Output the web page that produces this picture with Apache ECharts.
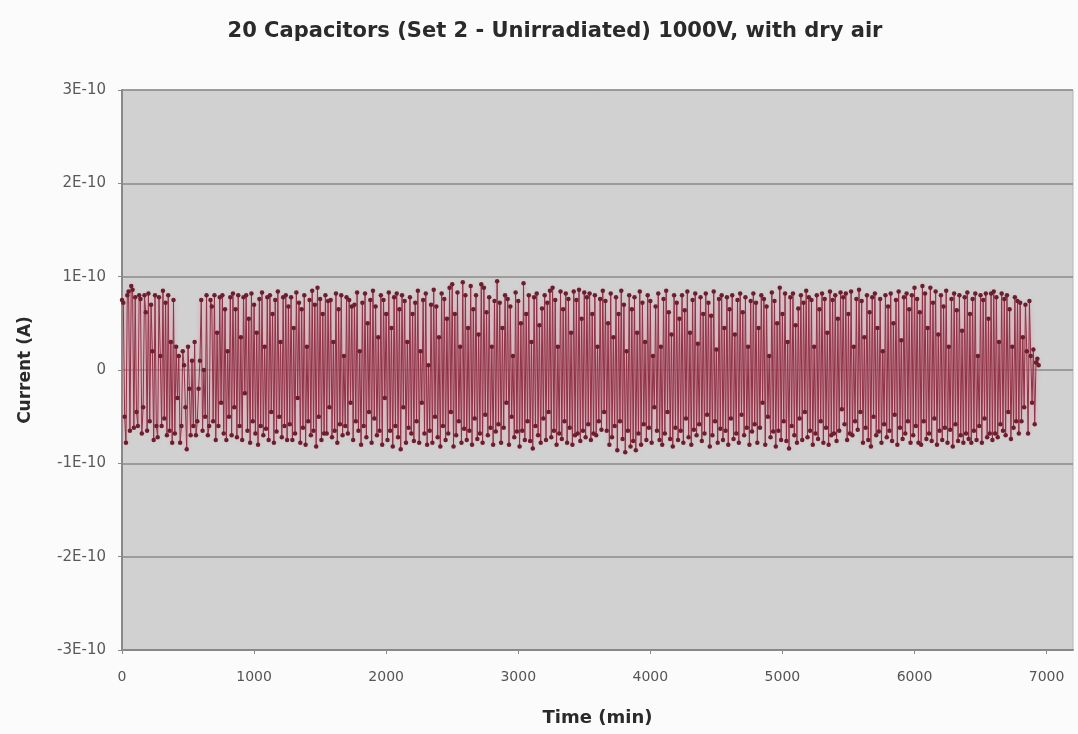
<!DOCTYPE html>
<html>
<head>
<meta charset="utf-8">
<script src="https://cdn.jsdelivr.net/npm/echarts@6/dist/echarts.min.js"></script>
<style>
  html, body { margin: 0; padding: 0; background: #fbfbfb; }
  #main { width: 1078px; height: 734px; }
</style>
</head>
<body>
<div id="main"></div>
<script>
// Data: current readings in units of 1E-11 A, logged every 10 min from t = 0
var sampleStepMin = 10;
var currentE11 = [
  7.5, 7.2, -5, -7.8, 8, 8.4, -6.5, 9, 8.6, -6.2, 7.8, -4.5, -6, 8, 7.6, -6.8, -4, 8, 6.2, -6.5,
  8.2, -5.5, 7, 2, -7.5, 8, -6, -7.2, 7.8, 1.5, -6, 8.5, -5.2, 7.2, -7, 8, -6.5, 3, -7.8, 7.5,
  -6.8, 2.5, -3, 1.5, -7.8, -6, 2, 0.5, -4, -8.5, 2.5, -2, -7, 1, -6, 3, -7, -5.5, -2, 1,
  7.5, -6.5, 0, -5, 8, -7, -6, 7.5, 6.8, -5.5, 8, -7.5, 4, -6, 7.8, -3.5, 8, -6.8, 6.5, -7.5,
  2, -5, 7.8, -7, 8.2, -4, 6.5, -7.2, 8, -6, 3.5, -7.5, 7.8, -2.5, 8, -6.5, 5.5, -7.8, 8.2, -5.5,
  7, -6.8, 4, -8, 7.6, -6, 8.3, -7, 2.5, -6.3, 7.8, -7.5, 8, -4.5, 6, -7.8, 7.5, -6.6, 8.4, -5,
  3, -7.2, 7.8, -6, 8, -7.5, 6.8, -5.8, 7.8, -7.5, 4.5, -6.8, 8.3, -3, 7.2, -7.8, 6.5, -6.2, 8, -8,
  2.5, -5.5, 7.5, -7, 8.5, -6.5, 7, -8.2, 8.8, -5, 7.6, -7.5, 6, -6.8, 8, -6.8, 7.4, -4, 7.5, -7.2,
  3, -6.5, 8.2, -7.8, 6.5, -5.8, 8, -7, 1.5, -6, 7.8, -6.8, 7.5, -3.5, 6.8, -7.5, 7, -5.5, 8.3, -6.5,
  2, -8, 7.2, -6, 8.2, -7.2, 5, -4.5, 7.5, -7.8, 8.5, -5.2, 6.8, -7, 3.5, -6.5, 8, -8, 7.5, -3,
  6, -7.5, 8.3, -6.5, 4.5, -8.2, 7.8, -6, 8.2, -7.2, 6.5, -8.5, 8, -4, 7.4, -7.8, 3, -6.2, 7.8, -6.8,
  6, -7.6, 7.2, -5.5, 8.5, -7.8, 2, -3.5, 7.5, -6.8, 8.2, -8, 0.5, -6.5, 7, -7.8, 8.6, -5, 6.8, -7.2,
  3.5, -8.2, 8.2, -6, 7.6, -7.5, 5.5, -6.8, 8.8, -4.5, 9.2, -8.2, 6, -7, 8.3, -5.5, 2.5, -7.8, 9.4, -6.3,
  8, -7.5, 4.5, -6.5, 9, -8, 6.5, -5.2, 8, -7.4, 3.8, -6.8, 9.2, -7.8, 8.8, -4.8, 6.2, -7, 7.8, -6.2,
  2.5, -8, 7.4, -6.6, 9.5, -5.8, 7.2, -7.8, 4.5, -6.2, 8, -3.5, 7.6, -8, 6.8, -5, 1.5, -7.2, 8.3, -6.6,
  7.4, -8.2, 5, -6.5, 9.3, -7.5, 6, -5.5, 8, -7.6, 3, -8.4, 7.8, -6, 8.2, -7, 4.8, -7.8, 6.6, -5.2,
  8, -7.5, 7.2, -4.5, 8.5, -7.2, 8.8, -6.5, 7.5, -8, 2.5, -6.8, 8.4, -7.4, 6.5, -5.5, 8.2, -7.8, 7.6, -6.2,
  4, -8, 8.4, -7, 7.5, -6.8, 8.6, -7.6, 5.5, -6.5, 8.3, -7.2, 7.8, -5.8, 8.2, -7.5, 6, -6.8, 8, -7,
  2.5, -5.5, 7.6, -6.4, 8.5, -4.5, 7.4, -6.5, 5, -8, 8.2, -7.2, 3.5, -6, 7.8, -8.6, 6, -5.5, 8.5, -7.4,
  7, -8.8, 2, -6.5, 8, -8.2, 6.5, -7.6, 7.8, -8.6, 4, -6.8, 8.4, -8, 7.2, -5.8, 3, -7.5, 8, -6.2,
  7.4, -7.8, 1.5, -4, 6.8, -6.5, 8.2, -7.5, 2.5, -8, 7.6, -6.8, 8.5, -4.5, 6.2, -7.4, 3.8, -8.2, 8, -6.2,
  7.2, -7.5, 5.5, -6.5, 8, -7.8, 6.4, -5.2, 8.4, -7.2, 4, -8, 7.5, -6.4, 8.2, -7, 2.8, -5.8, 7.8, -7.6,
  6, -6.8, 8.2, -4.8, 7.2, -8.2, 5.8, -7, 8.4, -5.5, 2.2, -7.8, 7.6, -6.3, 8, -7.5, 4.5, -6.5, 7.8, -8,
  6.5, -5.2, 8, -7.4, 3.8, -6.8, 7.5, -7.8, 8.2, -4.8, 6.2, -7, 7.8, -6.2, 2.5, -8, 7.4, -6.6, 8.2, -5.8,
  7.2, -7.8, 4.5, -6.2, 8, -3.5, 7.6, -8, 6.8, -5, 1.5, -7.2, 8.3, -6.6, 7.4, -8.2, 5, -6.5, 8.8, -7.5,
  6, -5.5, 8.2, -7.6, 3, -8.4, 7.8, -6, 8.2, -7, 4.8, -7.8, 6.6, -5.2, 8, -7.5, 7.2, -4.5, 8.5, -7.2,
  7.8, -6.5, 7.5, -8, 2.5, -6.8, 8, -7.4, 6.5, -5.5, 8.2, -7.8, 7.6, -6.2, 4, -8, 8.4, -7, 7.5, -6.8,
  8, -7.6, 5.5, -6.5, 8.3, -4.2, 7.8, -5.8, 8.2, -7.5, 6, -6.8, 8.4, -7, 2.5, -5.5, 7.6, -6.4, 8.6, -4.5,
  7.4, -7.8, 3.5, -6.2, 8, -7.5, 6.2, -8.2, 7.8, -5, 8.2, -7, 4.5, -6.6, 7.6, -7.8, 2, -5.8, 8, -7.2,
  6.8, -6.5, 8.2, -7.6, 5, -4.8, 7.5, -8, 8.4, -6.2, 3.2, -7.4, 7.8, -6.8, 8.2, -5.5, 6.5, -7.8, 8, -7,
  8.8, -6, 7.6, -7.8, 6.2, -8, 9, -5.5, 8.2, -7.4, 4.5, -6.8, 8.8, -7.6, 7.2, -5.2, 8.4, -8, 3.8, -6.5,
  8, -7.5, 6.8, -6.2, 8.5, -7.8, 2.5, -6.4, 7.6, -8.2, 8.2, -5.8, 6.4, -7.6, 8, -7, 4.2, -7.8, 7.8, -6.8,
  8.3, -7.4, 6, -7.8, 7.6, -6.5, 8.2, -7.5, 1.5, -6, 8, -7.8, 7.5, -5.2, 8.2, -7.2, 5.5, -6.8, 8.2, -7.5,
  8.4, -6.8, 7.8, -7.2, 3, -5.8, 8.2, -6.5, 7.6, -7, 8, -4.5, 6.5, -7.4, 2.5, -6.2, 7.8, -5.5, 7.4, -6.8,
  7.2, -5.5, 3.5, -4, 7, 2, -6.8, 7.4, 1.5, -3.5, 2.2, -5.8, 0.8, 1.2, 0.5
];

var xTicks = { min: 0, max: 7200, interval: 1000 };
var yTicks = { min: -3e-10, max: 3e-10, interval: 1e-10 };

var seriesData = currentE11.map(function (v, i) {
  return [i * sampleStepMin, v * 1e-11];
});

var myChart = echarts.init(document.getElementById('main'));

var option = {
  backgroundColor: '#fbfbfb',
  animation: false,
  title: {
    text: '20 Capacitors (Set 2 - Unirradiated) 1000V, with dry air',
    left: 550,
    textAlign: 'center',
    top: 16,
    textStyle: {
      fontFamily: 'DejaVu Sans',
      fontWeight: 'bold',
      fontSize: 21,
      color: '#2a2a2a'
    }
  },
  grid: {
    left: 122,
    right: 5,
    top: 90,
    bottom: 84,
    show: true,
    backgroundColor: '#d1d1d1',
    borderColor: '#b5b5b5',
    borderWidth: 1
  },
  xAxis: {
    type: 'value',
    min: xTicks.min,
    max: xTicks.max,
    interval: xTicks.interval,
    name: 'Time (min)',
    nameLocation: 'center',
    nameGap: 59,
    nameTextStyle: {
      fontFamily: 'DejaVu Sans',
      fontWeight: 'bold',
      fontSize: 18,
      color: '#2a2a2a'
    },
    axisLine: { show: true, onZero: false, lineStyle: { color: '#888', width: 2 } },
    axisTick: { show: true, length: 4, lineStyle: { color: '#888' } },
    splitLine: { show: false },
    axisLabel: {
      showMaxLabel: false,
      margin: 20,
      fontFamily: 'DejaVu Sans',
      fontSize: 14,
      color: '#555',
      formatter: function (v) { return String(v); }
    }
  },
  yAxis: {
    type: 'value',
    min: yTicks.min,
    max: yTicks.max,
    interval: yTicks.interval,
    name: 'Current (A)',
    nameLocation: 'center',
    nameGap: 88,
    nameTextStyle: {
      fontFamily: 'DejaVu Sans',
      fontWeight: 'bold',
      fontSize: 17,
      color: '#2a2a2a'
    },
    axisLine: { show: true, lineStyle: { color: '#888', width: 2 } },
    axisTick: { show: true, length: 4, lineStyle: { color: '#888' } },
    splitLine: { show: true, lineStyle: { color: '#8a8a8a', width: 1.5 } },
    axisLabel: {
      margin: 16,
      fontFamily: 'DejaVu Sans',
      fontSize: 15,
      color: '#5a5a5a',
      formatter: function (v) {
        var n = Math.round(v * 1e10);
        return n === 0 ? '0' : n + 'E-10';
      }
    }
  },
  series: [{
    type: 'line',
    data: seriesData,
    symbol: 'circle',
    symbolSize: 4.5,
    lineStyle: {
      color: '#8e3346',
      width: 1,
      shadowBlur: 4,
      shadowColor: 'rgba(225, 140, 160, 0.9)'
    },
    itemStyle: { color: '#6b1f2e' }
  }]
};

myChart.setOption(option);
</script>
</body>
</html>
